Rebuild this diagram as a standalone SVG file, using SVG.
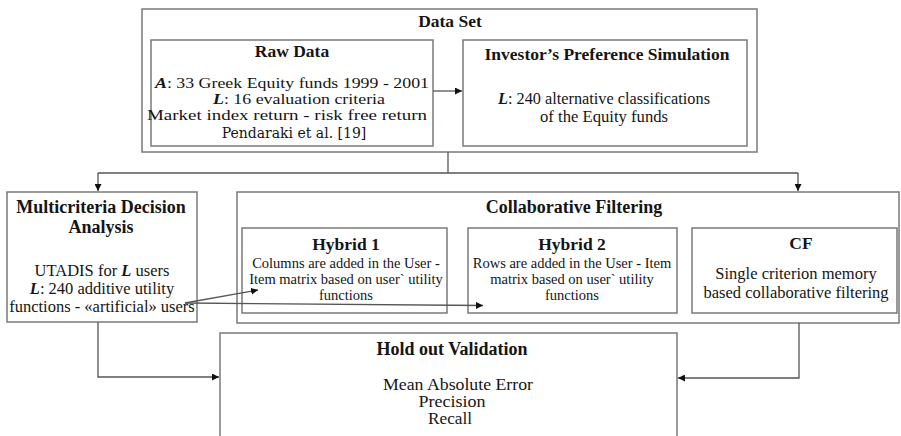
<svg xmlns="http://www.w3.org/2000/svg" width="901" height="436" viewBox="0 0 901 436">
  <style>
    .box { fill: none; stroke: #7a7a7a; stroke-width: 1.5; }
    .link { fill: none; stroke: #555; stroke-width: 1.3; }
    text { font-family: "Liberation Serif", "Times New Roman", serif; fill: #151515; text-anchor: middle; }
    .title { font-size: 18px; font-weight: bold; }
    .sub { font-size: 17.5px; font-weight: bold; }
    .wide { font-size: 15.5px; }
    .big { font-size: 16px; }
    .body { font-size: 16.5px; }
    .small { font-size: 14.5px; }
    .ref { font-size: 14px; font-family: "DejaVu Serif", "Liberation Serif", serif; }
    .var { font-weight: bold; font-style: italic; }
  </style>
  <defs>
    <marker id="arrow" viewBox="0 0 8 8" refX="8" refY="4" markerWidth="7" markerHeight="7" markerUnits="userSpaceOnUse" orient="auto">
      <path d="M0,0 L8,4 L0,8 Z" fill="#111"/>
    </marker>
  </defs>

  <!-- Data set container -->
  <g id="data-set">
    <rect class="box" x="142" y="9" width="615" height="143"/>
    <text class="sub" x="450" y="27">Data Set</text>
  </g>

  <g id="raw-data">
    <rect class="box" x="151" y="40" width="282" height="106"/>
    <text class="sub" x="292" y="57">Raw Data</text>
    <text class="wide" x="292" y="88" textLength="274" lengthAdjust="spacingAndGlyphs"><tspan class="var">A</tspan>: 33 Greek Equity funds 1999 - 2001</text>
    <text class="wide" x="299" y="104" textLength="172" lengthAdjust="spacingAndGlyphs"><tspan class="var">L</tspan>: 16 evaluation criteria</text>
    <text class="wide" x="287" y="120" textLength="280" lengthAdjust="spacingAndGlyphs">Market index return - risk free return</text>
    <text class="ref" x="294" y="138">Pendaraki et al. [19]</text>
  </g>

  <g id="investor-preference">
    <rect class="box" x="463" y="40" width="284" height="106"/>
    <text class="sub" x="607" y="60">Investor’s Preference Simulation</text>
    <text class="big" x="604" y="104" textLength="212" lengthAdjust="spacingAndGlyphs"><tspan class="var">L</tspan>: 240 alternative classifications</text>
    <text class="big" x="604" y="122" textLength="128" lengthAdjust="spacingAndGlyphs">of the Equity funds</text>
  </g>

  <g id="mcda">
    <rect class="box" x="7" y="192" width="190" height="130"/>
    <text class="title" x="101" y="213">Multicriteria Decision</text>
    <text class="title" x="101" y="233">Analysis</text>
    <text class="body" x="102" y="276">UTADIS for <tspan class="var">L</tspan> users</text>
    <text class="body" x="102" y="294"><tspan class="var">L</tspan>: 240 additive utility</text>
    <text class="body" x="102" y="312">functions - «artificial» users</text>
  </g>

  <g id="collaborative-filtering">
    <rect class="box" x="237" y="192" width="662" height="131"/>
    <text class="title" x="574" y="213">Collaborative Filtering</text>
  </g>

  <g id="hybrid-1">
    <rect class="box" x="242" y="228" width="205" height="85"/>
    <text class="sub" x="346" y="250">Hybrid 1</text>
    <text class="small" x="346" y="268">Columns are added in the User -</text>
    <text class="small" x="346" y="284">Item matrix based on user` utility</text>
    <text class="small" x="346" y="300">functions</text>
  </g>

  <g id="hybrid-2">
    <rect class="box" x="468" y="228" width="209" height="85"/>
    <text class="sub" x="572" y="250">Hybrid 2</text>
    <text class="small" x="572" y="268">Rows are added in the User - Item</text>
    <text class="small" x="572" y="284">matrix based on user` utility</text>
    <text class="small" x="572" y="300">functions</text>
  </g>

  <g id="cf">
    <rect class="box" x="692" y="228" width="205" height="85"/>
    <text class="sub" x="801" y="249">CF</text>
    <text class="body" x="796" y="279">Single criterion memory</text>
    <text class="body" x="796" y="298">based collaborative filtering</text>
  </g>

  <g id="hold-out-validation">
    <path class="box" d="M220,437 V333 H677 V437"/>
    <text class="title" x="452" y="355">Hold out Validation</text>
    <text class="big" x="458" y="390" textLength="150" lengthAdjust="spacingAndGlyphs">Mean Absolute Error</text>
    <text class="big" x="452" y="407" textLength="67" lengthAdjust="spacingAndGlyphs">Precision</text>
    <text class="big" x="450" y="424" textLength="44" lengthAdjust="spacingAndGlyphs">Recall</text>
  </g>

  <!-- connectors -->
  <g id="connectors">
    <line class="link" x1="433" y1="91" x2="462" y2="91" marker-end="url(#arrow)"/>
    <path class="link" d="M448,152 V173"/>
    <path class="link" d="M98,173 H798"/>
    <path class="link" d="M98,173 V191" marker-end="url(#arrow)"/>
    <path class="link" d="M798,173 V191" marker-end="url(#arrow)"/>
    <line class="link" x1="185" y1="303" x2="258" y2="290" marker-end="url(#arrow)"/>
    <line class="link" x1="185" y1="303" x2="483" y2="305.5" marker-end="url(#arrow)"/>
    <path class="link" d="M98,322 V377 H219" marker-end="url(#arrow)"/>
    <path class="link" d="M799,323 V378 H678" marker-end="url(#arrow)"/>
  </g>
</svg>
